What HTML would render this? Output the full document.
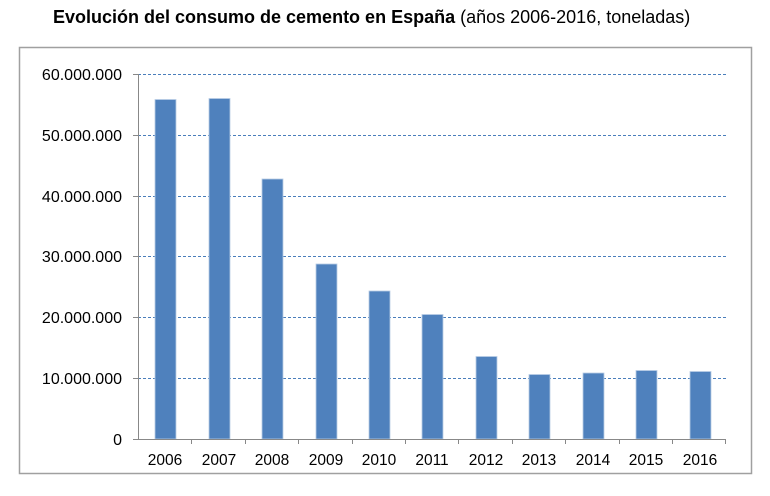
<!DOCTYPE html>
<html><head><meta charset="utf-8"><style>
body{margin:0;background:#fff;}
svg text{font-family:"Liberation Sans",Arial,sans-serif;}
</style></head><body>
<svg width="770" height="491" xmlns="http://www.w3.org/2000/svg">
<rect width="770" height="491" fill="#fff"/>
<text x="53" y="23" font-size="18" font-weight="bold" fill="#000">Evolución del consumo de cemento en España <tspan font-weight="normal">(años 2006-2016, toneladas)</tspan></text>
<rect x="19.5" y="47.5" width="732" height="426" fill="#fff" stroke="#a0a0a0" stroke-width="1.5"/>
<g stroke="#4a7ebb" stroke-width="1" stroke-dasharray="3,2">
<line x1="138" y1="74.5" x2="726" y2="74.5"/>
<line x1="138" y1="135.5" x2="726" y2="135.5"/>
<line x1="138" y1="196.5" x2="726" y2="196.5"/>
<line x1="138" y1="256.5" x2="726" y2="256.5"/>
<line x1="138" y1="317.5" x2="726" y2="317.5"/>
<line x1="138" y1="378.5" x2="726" y2="378.5"/>
</g>
<g fill="#4f81bd" stroke="#b9cde5" stroke-width="0.8">
<rect x="155" y="99.5" width="21" height="339.5"/>
<rect x="209" y="98.5" width="21" height="340.5"/>
<rect x="262" y="179" width="21" height="260"/>
<rect x="316" y="264" width="21" height="175"/>
<rect x="369" y="291" width="21" height="148"/>
<rect x="422" y="314.5" width="21" height="124.5"/>
<rect x="476" y="356.5" width="21" height="82.5"/>
<rect x="529" y="374.5" width="21" height="64.5"/>
<rect x="583" y="373" width="21" height="66"/>
<rect x="636" y="370.5" width="21" height="68.5"/>
<rect x="690" y="371.5" width="21" height="67.5"/>
</g>
<g stroke="#888" stroke-width="1">
<line x1="138.5" y1="74" x2="138.5" y2="439"/>
<line x1="133" y1="439.5" x2="726" y2="439.5"/>
<line x1="133" y1="74.5" x2="138" y2="74.5"/>
<line x1="133" y1="135.5" x2="138" y2="135.5"/>
<line x1="133" y1="196.5" x2="138" y2="196.5"/>
<line x1="133" y1="256.5" x2="138" y2="256.5"/>
<line x1="133" y1="317.5" x2="138" y2="317.5"/>
<line x1="133" y1="378.5" x2="138" y2="378.5"/>
<line x1="191.5" y1="439" x2="191.5" y2="444"/><line x1="245.5" y1="439" x2="245.5" y2="444"/>
<line x1="298.5" y1="439" x2="298.5" y2="444"/><line x1="352.5" y1="439" x2="352.5" y2="444"/>
<line x1="405.5" y1="439" x2="405.5" y2="444"/><line x1="458.5" y1="439" x2="458.5" y2="444"/>
<line x1="512.5" y1="439" x2="512.5" y2="444"/><line x1="565.5" y1="439" x2="565.5" y2="444"/>
<line x1="619.5" y1="439" x2="619.5" y2="444"/><line x1="672.5" y1="439" x2="672.5" y2="444"/>
<line x1="725.5" y1="439" x2="725.5" y2="444"/>
</g>
<g font-size="16" fill="#000" text-anchor="end">
<text x="122" y="80">60.000.000</text>
<text x="122" y="141">50.000.000</text>
<text x="122" y="202">40.000.000</text>
<text x="122" y="262">30.000.000</text>
<text x="122" y="323">20.000.000</text>
<text x="122" y="384">10.000.000</text>
<text x="122" y="445">0</text>
</g>
<g font-size="15.5" fill="#000" text-anchor="middle">
<text x="165" y="465">2006</text><text x="219" y="465">2007</text><text x="272" y="465">2008</text>
<text x="326" y="465">2009</text><text x="379" y="465">2010</text><text x="432" y="465">2011</text>
<text x="486" y="465">2012</text><text x="539" y="465">2013</text><text x="593" y="465">2014</text>
<text x="646" y="465">2015</text><text x="700" y="465">2016</text>
</g>
</svg>
</body></html>
